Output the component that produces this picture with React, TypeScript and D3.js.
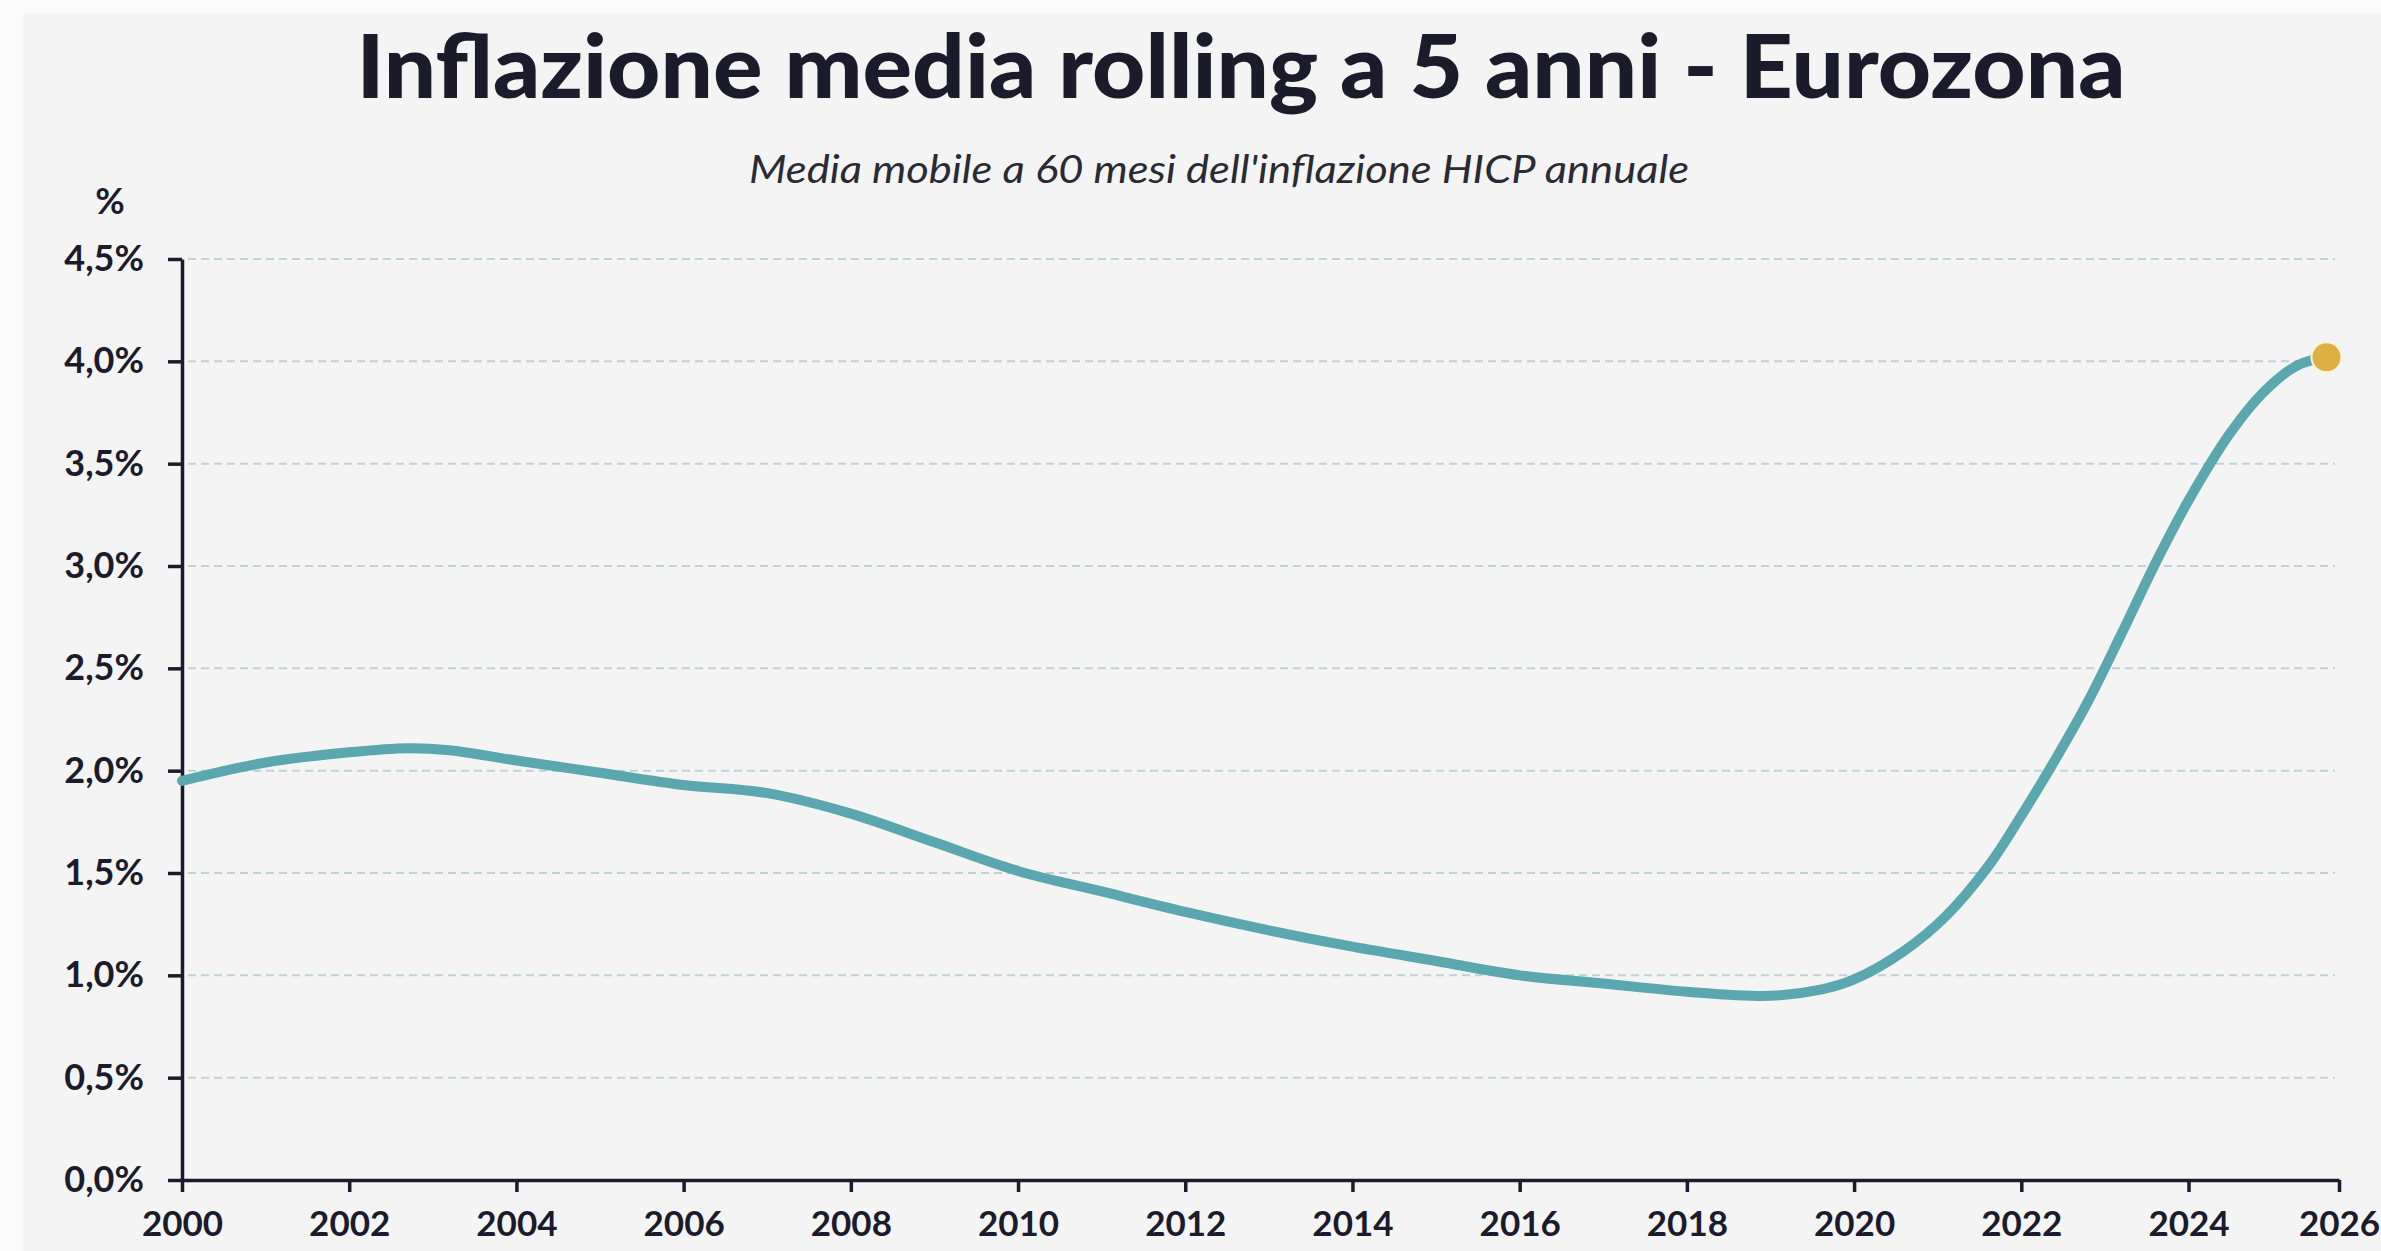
import React, { useEffect, useRef } from "react";
import * as d3 from "d3";

// anni (frazione d'anno) e valori
const years = [
  2000, 2001, 2002, 2002.7, 2003.2, 2004, 2005, 2006, 2007, 2008, 2009, 2010,
  2011, 2012, 2013, 2014, 2015, 2016, 2017, 2018, 2019, 2019.6, 2020, 2020.6,
  2021.1, 2021.6, 2022, 2022.4, 2022.8, 2023.2, 2023.6, 2024, 2024.5, 2024.9,
  2025.3, 2025.65,
];
const values = [
  1.95, 2.04, 2.09, 2.11, 2.1, 2.05, 1.99, 1.93, 1.89, 1.79, 1.65, 1.51, 1.41,
  1.31, 1.22, 1.14, 1.07, 1.0, 0.96, 0.92, 0.9, 0.93, 0.98, 1.12, 1.29, 1.53,
  1.78, 2.05, 2.34, 2.67, 3.01, 3.32, 3.65, 3.85, 3.98, 4.02,
];
const yTicks = [0, 0.5, 1, 1.5, 2, 2.5, 3, 3.5, 4, 4.5];
const xTickLabels = [
  "2000", "2002", "2004", "2006", "2008", "2010", "2012",
  "2014", "2016", "2018", "2020", "2022", "2024", "2026",
];

const title = "Inflazione media rolling a 5 anni - Eurozona";
const subtitle = "Media mobile a 60 mesi dell'inflazione HICP annuale";

const W = 2381;
const H = 1251;
const xEnd = 2025.8;

const App = () => {
  const ref = useRef<SVGSVGElement>(null);

  useEffect(() => {
    document.body.style.margin = "0";
    const svg = d3.select(ref.current);
    svg.selectAll("*").remove();

    const ink = "#1b1b2c";
    const font = "Lato, sans-serif";

    const x = d3.scaleLinear().domain([2000, xEnd]).range([182, 2339]);
    const y = d3.scaleLinear().domain([0, 4.5]).range([1180, 259]);

    svg.append("rect").attr("width", W).attr("height", H).attr("fill", "#fafafa");
    svg
      .append("rect")
      .attr("x", 23)
      .attr("y", 13)
      .attr("width", W - 23)
      .attr("height", H - 13)
      .attr("fill", "#f4f4f4");

    // titolo
    svg
      .append("text")
      .attr("x", 1241)
      .attr("y", 98)
      .attr("text-anchor", "middle")
      .attr("font-family", font)
      .attr("font-weight", 900)
      .attr("font-size", 88)
      .attr("textLength", 1769)
      .attr("lengthAdjust", "spacingAndGlyphs")
      .attr("fill", ink)
      .text(title);

    svg
      .append("text")
      .attr("x", 1219)
      .attr("y", 183)
      .attr("text-anchor", "middle")
      .attr("font-family", font)
      .attr("font-style", "italic")
      .attr("font-size", 38)
      .attr("textLength", 940)
      .attr("lengthAdjust", "spacingAndGlyphs")
      .attr("fill", "#2a2a35")
      .text(subtitle);

    svg
      .append("text")
      .attr("x", 110)
      .attr("y", 214)
      .attr("text-anchor", "middle")
      .attr("font-family", font)
      .attr("font-weight", 700)
      .attr("font-size", 36)
      .attr("fill", ink)
      .text("%");

    // griglia
    svg
      .append("g")
      .selectAll("line")
      .data(yTicks.filter((d) => d > 0))
      .enter()
      .append("line")
      .attr("x1", x(2000) + 6)
      .attr("x2", x(xEnd) - 4)
      .attr("y1", (d) => y(d))
      .attr("y2", (d) => y(d))
      .attr("stroke", "#bcd2d6")
      .attr("stroke-width", 2)
      .attr("stroke-dasharray", "8,5");

    // assi
    const yAxis = svg
      .append("g")
      .attr("transform", `translate(${x(2000)},0)`)
      .call(
        d3
          .axisLeft(y)
          .tickValues(yTicks)
          .tickSize(14)
          .tickSizeOuter(0)
          .tickPadding(24)
          .tickFormat((d) => d3.format(".1f")(+d).replace(".", ",") + "%")
      );

    const xAxis = svg
      .append("g")
      .attr("transform", `translate(0,${y(0)})`)
      .call(
        d3
          .axisBottom(x)
          .tickValues(xTickLabels.map((s) => Math.min(+s, xEnd)))
          .tickSize(12)
          .tickSizeOuter(0)
          .tickPadding(19)
          .tickFormat((d, i) => xTickLabels[i])
      );

    [yAxis, xAxis].forEach((g) => {
      g.select(".domain").attr("stroke", ink).attr("stroke-width", 3.5);
      g.selectAll(".tick line").attr("stroke", ink).attr("stroke-width", 3.5);
      g.selectAll(".tick text")
        .attr("fill", ink)
        .attr("font-family", font)
        .attr("font-weight", 700);
    });
    yAxis.selectAll(".tick text").attr("font-size", 36);
    xAxis.selectAll(".tick text").attr("font-size", 35);

    // linea
    const line = d3
      .line<number>()
      .x((d, i) => x(years[i]))
      .y((d) => y(d))
      .curve(d3.curveCatmullRom.alpha(0.5));

    svg
      .append("path")
      .datum(values)
      .attr("d", line)
      .attr("fill", "none")
      .attr("stroke", "#5aa7b0")
      .attr("stroke-width", 10)
      .attr("stroke-linecap", "round")
      .attr("stroke-linejoin", "round");

    const last = values.length - 1;
    svg
      .append("circle")
      .attr("cx", x(years[last]))
      .attr("cy", y(values[last]))
      .attr("r", 15)
      .attr("fill", "#dcb043")
      .attr("stroke", "#fbf2d8")
      .attr("stroke-width", 2);
  }, []);

  return <svg ref={ref} width={W} height={H} style={{ display: "block" }} />;
};

export default App;
